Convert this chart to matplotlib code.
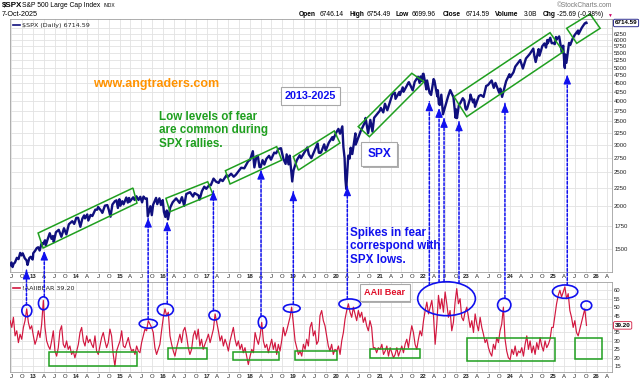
import matplotlib
matplotlib.use('Agg')
import matplotlib.pyplot as plt
import matplotlib.dates as mdates
import matplotlib.patheffects as pe
from matplotlib.patches import Polygon, Ellipse, Rectangle, ConnectionPatch
import pandas as pd

plt.rcParams['font.family'] = ['Liberation Sans', 'DejaVu Sans']

# S&P 500 closes, (month-day, close) per year
spx_2012 = [('06-15', 1343), ('07-03', 1375), ('07-12', 1334), ('07-20', 1362), ('08-01', 1375), ('08-17', 1418),
            ('08-31', 1406), ('09-14', 1465), ('09-25', 1441), ('10-05', 1461), ('10-23', 1413), ('11-07', 1394),
            ('11-15', 1353), ('11-30', 1416), ('12-12', 1428), ('12-28', 1402), ('12-31', 1426)]
spx_2013 = [('01-02', 1462), ('01-18', 1486), ('02-01', 1513), ('02-13', 1521), ('02-25', 1488), ('03-14', 1563),
            ('03-25', 1552), ('04-11', 1593), ('04-18', 1541), ('05-02', 1598), ('05-21', 1669), ('06-05', 1608),
            ('06-17', 1639), ('06-24', 1573), ('07-12', 1680), ('07-23', 1692), ('08-05', 1707), ('08-27', 1630),
            ('09-18', 1725), ('10-08', 1656), ('10-29', 1771), ('11-14', 1790), ('11-27', 1807), ('12-13', 1775),
            ('12-31', 1848)]
spx_2014 = [('01-15', 1848), ('02-03', 1742), ('02-20', 1839), ('03-07', 1878), ('03-14', 1841), ('04-02', 1890),
            ('04-11', 1815), ('04-30', 1884), ('05-15', 1870), ('06-09', 1951), ('06-24', 1950), ('07-03', 1985),
            ('07-31', 1931), ('08-07', 1910), ('08-29', 2003), ('09-18', 2011), ('10-01', 1946), ('10-15', 1862),
            ('10-31', 2018), ('11-21', 2063), ('12-05', 2075), ('12-16', 1973), ('12-29', 2090)]
spx_2015 = [('01-06', 2002), ('01-22', 2063), ('02-02', 2021), ('02-25', 2114), ('03-10', 2044), ('03-20', 2108),
            ('03-26', 2056), ('04-24', 2117), ('05-06', 2080), ('05-21', 2131), ('06-08', 2080), ('06-23', 2124),
            ('07-08', 2047), ('07-20', 2128), ('08-03', 2098), ('08-17', 2102), ('08-25', 1867), ('09-16', 1995),
            ('09-28', 1881), ('10-09', 2015), ('11-03', 2109), ('11-13', 2023), ('12-01', 2103), ('12-14', 2012),
            ('12-29', 2078)]
spx_2016 = [('01-08', 1922), ('01-20', 1859), ('02-01', 1940), ('02-11', 1829), ('03-01', 1978), ('03-22', 2049),
            ('04-20', 2102), ('05-19', 2040), ('06-08', 2119), ('06-27', 2001), ('07-14', 2163), ('08-15', 2190),
            ('09-09', 2128), ('09-22', 2177), ('10-25', 2143), ('11-04', 2085), ('11-23', 2204), ('12-13', 2271),
            ('12-30', 2239)]
spx_2017 = [('01-12', 2270), ('01-26', 2297), ('02-06', 2293), ('03-01', 2396), ('03-22', 2348), ('04-13', 2329),
            ('04-28', 2384), ('05-17', 2357), ('06-19', 2453), ('06-29', 2419), ('07-27', 2475), ('08-18', 2426),
            ('09-05', 2458), ('09-29', 2519), ('10-20', 2575), ('11-15', 2565), ('12-18', 2690)]
spx_2018 = [('01-03', 2713), ('01-26', 2873), ('02-08', 2581), ('02-26', 2780), ('03-09', 2786), ('03-23', 2588),
            ('04-02', 2582), ('04-18', 2708), ('05-03', 2630), ('05-21', 2733), ('06-12', 2787), ('06-28', 2716),
            ('07-25', 2846), ('08-10', 2833), ('08-29', 2914), ('09-20', 2931), ('10-11', 2728), ('10-29', 2641),
            ('11-07', 2813), ('11-23', 2633), ('12-03', 2790), ('12-24', 2351)]
spx_2019 = [('01-04', 2532), ('01-31', 2704), ('02-25', 2796), ('03-08', 2743), ('04-30', 2946), ('05-13', 2812),
            ('06-03', 2744), ('07-26', 3025), ('08-05', 2845), ('08-14', 2840), ('08-23', 2847), ('09-19', 3006),
            ('10-02', 2887), ('10-28', 3039), ('11-27', 3153), ('12-03', 3093), ('12-27', 3240)]
spx_2020 = [('01-17', 3330), ('01-31', 3226), ('02-19', 3386), ('02-28', 2954), ('03-09', 2747), ('03-16', 2386),
            ('03-23', 2237), ('04-09', 2790), ('04-21', 2737), ('04-29', 2940), ('05-13', 2820), ('06-08', 3232),
            ('06-11', 3002), ('07-22', 3277), ('08-31', 3500), ('09-02', 3580), ('09-23', 3237), ('10-12', 3534),
            ('10-30', 3270), ('11-13', 3585), ('12-31', 3756)]
spx_2021 = [('01-08', 3825), ('01-29', 3714), ('02-12', 3934), ('03-04', 3768), ('03-26', 3975), ('04-16', 4185),
            ('05-07', 4232), ('05-12', 4063), ('06-14', 4255), ('06-18', 4166), ('07-12', 4384), ('07-19', 4258),
            ('08-30', 4529), ('09-02', 4537), ('10-04', 4300), ('10-21', 4549), ('11-18', 4704), ('12-01', 4513),
            ('12-10', 4712), ('12-20', 4568), ('12-29', 4793)]
spx_2022 = [('01-03', 4797), ('01-27', 4327), ('02-02', 4590), ('02-23', 4226), ('03-08', 4170), ('03-29', 4632),
            ('04-05', 4582), ('04-29', 4132), ('05-04', 4300), ('05-12', 3930), ('05-20', 3901), ('06-02', 4177),
            ('06-16', 3667), ('07-08', 3899), ('07-29', 4130), ('08-16', 4305), ('09-12', 4110), ('09-30', 3586),
            ('10-04', 3791), ('10-12', 3577), ('10-28', 3901), ('11-10', 3956), ('11-30', 4080), ('12-13', 4019),
            ('12-22', 3822), ('12-28', 3783)]
spx_2023 = [('01-05', 3808), ('01-31', 4077), ('02-02', 4179), ('02-24', 3970), ('03-06', 4048), ('03-13', 3855),
            ('04-14', 4137), ('05-01', 4168), ('05-24', 4115), ('06-15', 4426), ('06-30', 4450), ('07-31', 4589),
            ('08-18', 4370), ('09-01', 4515), ('10-03', 4229), ('10-12', 4349), ('10-27', 4117), ('11-30', 4568),
            ('12-28', 4783)]
spx_2024 = [('01-04', 4688), ('01-31', 4846), ('02-15', 5030), ('03-28', 5254), ('04-19', 4967), ('05-15', 5308),
            ('06-17', 5473), ('07-16', 5667), ('07-25', 5399), ('08-05', 5186), ('08-30', 5648), ('09-06', 5408),
            ('09-30', 5762), ('10-18', 5864), ('10-31', 5705), ('11-11', 6001), ('11-15', 5870), ('12-06', 6090),
            ('12-18', 5872), ('12-31', 5882)]
spx_2025 = [('01-13', 5836), ('01-23', 6119), ('01-27', 6012), ('02-19', 6144), ('03-13', 5522), ('03-25', 5777),
            ('04-04', 5074), ('04-08', 4982), ('04-09', 5457), ('04-21', 5158), ('05-13', 5886), ('05-23', 5803),
            ('06-12', 6045), ('06-30', 6205), ('07-28', 6389), ('08-01', 6238), ('08-28', 6502), ('09-22', 6693),
            ('10-06', 6740), ('10-07', 6714.59)]

# AAII bearish %, read roughly every two weeks
bear_2012 = [42, 38, 44, 33, 36, 29, 34, 31, 38, 42, 49, 41, 37, 39]
bear_2013 = [33, 28, 31, 36, 32, 40, 54, 38, 30, 27, 25, 30, 36, 24, 21, 26, 36, 39, 28, 26, 30, 25, 27, 22, 24, 20]
bear_2014 = [24, 28, 35, 38, 30, 27, 33, 29, 31, 28, 26, 33, 24, 22, 27, 32, 35, 30, 26, 29, 37, 33, 22, 15, 24, 27]
bear_2015 = [30, 36, 27, 26, 29, 32, 27, 24, 25, 22, 27, 24, 23, 29, 33, 37, 36, 42, 40, 38, 35, 26, 22, 25, 28, 36]
bear_2016 = [44, 49, 45, 47, 33, 28, 24, 21, 26, 30, 34, 29, 36, 38, 33, 26, 22, 25, 33, 36, 31, 37, 27, 31, 25, 28]
bear_2017 = [31, 34, 29, 33, 37, 46, 41, 36, 30, 33, 27, 31, 28, 24, 30, 34, 38, 31, 27, 30, 25, 28, 23, 26, 21, 16]
bear_2018 = [21, 25, 23, 35, 31, 28, 33, 41, 30, 26, 28, 23, 27, 31, 25, 29, 22, 28, 24, 30, 38, 33, 36, 40, 44, 50]
bear_2019 = [40, 30, 26, 22, 24, 21, 28, 25, 31, 27, 38, 41, 33, 36, 28, 30, 45, 48, 42, 39, 33, 27, 24, 28, 22, 25]
bear_2020 = [24, 27, 22, 30, 35, 43, 48, 52, 47, 44, 50, 46, 42, 48, 44, 47, 41, 44, 39, 36, 42, 38, 26, 26, 23, 26]
bear_2021 = [25, 28, 22, 24, 27, 21, 26, 23, 20, 22, 26, 21, 24, 27, 23, 28, 31, 26, 33, 39, 35, 28, 25, 31, 36, 33]
bear_2022 = [42, 48, 53, 46, 50, 54, 45, 28, 40, 57, 49, 55, 47, 59, 52, 44, 48, 36, 41, 53, 61, 52, 55, 44, 42, 47]
bear_2023 = [50, 44, 38, 42, 35, 46, 40, 36, 44, 38, 34, 29, 31, 26, 23, 21, 28, 25, 32, 29, 36, 40, 50, 31, 24, 20]
bear_2024 = [19, 25, 22, 27, 21, 24, 23, 26, 21, 28, 33, 25, 30, 23, 27, 22, 29, 25, 32, 27, 24, 30, 26, 28, 31, 38]
bear_2025 = [38, 45, 52, 57, 60, 56, 59, 62, 55, 58, 48, 44, 38, 42, 35, 33, 37, 41, 45, 49, 39.2]

# tick values; the ones hidden under the last-value tags get no label
price_ticks = [1500, 1750, 2000, 2250, 2500, 2750, 3000, 3250, 3500, 3750, 4000, 4250, 4500, 4750,
               5000, 5250, 5500, 5750, 6000, 6250, 6500]
price_hidden = [6500]
bear_ticks = [15, 20, 25, 30, 35, 40, 45, 50, 55, 60]
bear_hidden = [40]

NAVY = '#10107e'
RED = '#d2173f'
BLUE = '#1010ee'
GREEN = '#1f9f1f'
GRID = '#e2e2e2'


def d(s):
    return mdates.date2num(pd.Timestamp(s))


spx_years = [(2012, spx_2012), (2013, spx_2013), (2014, spx_2014), (2015, spx_2015), (2016, spx_2016),
             (2017, spx_2017), (2018, spx_2018), (2019, spx_2019), (2020, spx_2020), (2021, spx_2021),
             (2022, spx_2022), (2023, spx_2023), (2024, spx_2024), (2025, spx_2025)]
spx_dates, spx_vals = [], []
for y, pts in spx_years:
    for md, v in pts:
        spx_dates.append(pd.Timestamp(f'{y}-{md}'))
        spx_vals.append(v)

bear_dates = list(pd.date_range(end='2012-12-20', periods=len(bear_2012), freq='14D'))
bear_vals = list(bear_2012)
for y, vals in [(2013, bear_2013), (2014, bear_2014), (2015, bear_2015), (2016, bear_2016), (2017, bear_2017),
                (2018, bear_2018), (2019, bear_2019), (2020, bear_2020), (2021, bear_2021), (2022, bear_2022),
                (2023, bear_2023), (2024, bear_2024)]:
    bear_dates += list(pd.date_range(f'{y}-01-03', periods=len(vals), freq='14D'))
    bear_vals += vals
bear_dates += list(pd.date_range(end='2025-10-07', periods=len(bear_2025), freq='14D'))
bear_vals += bear_2025

W, H = 640, 382
fig = plt.figure(figsize=(6.4, 3.82), dpi=100)
ax1 = fig.add_axes([9.5 / W, 1 - 272 / H, 602.5 / W, 253 / H])
ax2 = fig.add_axes([9.5 / W, 1 - 372 / H, 602.5 / W, 90 / H])

ax1.plot(spx_dates, spx_vals, color=NAVY, lw=1.7, zorder=3)
ax1.set_yscale('log')
ax1.set_ylim(1291, 6894)
ax2.plot(bear_dates, bear_vals, color=RED, lw=0.85, zorder=3)
ax2.set_ylim(11.6, 64.9)

qticks = pd.date_range('2012-07-01', '2026-04-01', freq='QS')
qlabels = [str(t.year % 100) if t.month == 1 else {4: 'A', 7: 'J', 10: 'O'}[t.month] for t in qticks]
for ax in (ax1, ax2):
    ax.set_xlim(d('2012-06-16'), d('2026-05-10'))
    ax.set_xticks(qticks)
    ax.set_xticklabels(qlabels)
    for lab, t in zip(ax.get_xticklabels(), qticks):
        if t.month == 1:
            lab.set_fontweight('bold')
    ax.yaxis.tick_right()
    ax.tick_params(length=0, labelsize=4.3, pad=1.5, colors='#222222')
    ax.grid(True, color=GRID, lw=0.6, zorder=0)
    for sp in ax.spines.values():
        sp.set_color('#a0a0a0')
        sp.set_linewidth(0.6)

ax1.yaxis.set_minor_locator(matplotlib.ticker.NullLocator())
ax1.set_yticks(price_ticks)
ax1.set_yticklabels(['' if v in price_hidden else str(v) for v in price_ticks])
ax2.set_yticks(bear_ticks)
ax2.set_yticklabels(['' if v in bear_hidden else str(v) for v in bear_ticks])

# last value tags
ax1.annotate(f'{spx_vals[-1]:.2f}', xy=(1, spx_vals[-1]), xycoords=('axes fraction', 'data'), xytext=(2, 0),
             textcoords='offset points', va='center', ha='left', fontsize=4.5, fontweight='bold',
             bbox=dict(boxstyle='round,pad=0.2', fc='white', ec=NAVY, lw=0.6), zorder=5)
ax2.annotate(f'{bear_vals[-1]:.2f}', xy=(1, bear_vals[-1]), xycoords=('axes fraction', 'data'), xytext=(2, 0),
             textcoords='offset points', va='center', ha='left', fontsize=4.5, fontweight='bold',
             bbox=dict(boxstyle='round,pad=0.2', fc='white', ec=RED, lw=0.6), zorder=5)

# rally channels on SPX
channels = [
    [('2013-02-12', 1671), ('2013-03-26', 1513), ('2015-05-26', 2038), ('2015-04-22', 2251)],
    [('2016-01-25', 2103), ('2016-02-28', 1924), ('2017-02-23', 2163), ('2017-01-11', 2347)],
    [('2017-06-09', 2525), ('2017-07-18', 2312), ('2018-09-26', 2708), ('2018-08-15', 2961)],
    [('2019-01-02', 2771), ('2019-02-14', 2534), ('2020-01-30', 3033), ('2019-12-13', 3285)],
    [('2020-07-02', 3380), ('2020-10-04', 3162), ('2022-01-08', 4551), ('2021-09-26', 4812)],
    [('2022-09-17', 4121), ('2023-01-02', 3610), ('2025-03-26', 5551), ('2024-12-04', 6297)],
    [('2025-04-23', 6483), ('2025-07-17', 5869), ('2026-01-30', 6483), ('2025-11-06', 7127)],
]
for ch in channels:
    ax1.add_patch(Polygon([(d(a), p) for a, p in ch], closed=True, fill=False, ec=GREEN, lw=1.1,
                          zorder=4, clip_on=False))

# low-fear boxes on AAII
for a, b, lo, hi in [('2013-05-18', '2015-05-28', 15.4, 23.3), ('2016-02-14', '2017-01-03', 19.3, 26.0),
                     ('2017-08-15', '2018-09-06', 18.7, 23.6), ('2019-01-17', '2020-01-08', 18.7, 24.1),
                     ('2020-10-10', '2021-12-05', 19.7, 25.2), ('2023-01-02', '2025-01-16', 18.1, 31.6),
                     ('2025-07-03', '2026-02-13', 19.5, 31.9)]:
    ax2.add_patch(Rectangle((d(a), lo), d(b) - d(a), hi - lo, fill=False, ec=GREEN, lw=1.1, zorder=4))

# fear spikes circled
for c, v, wd, ht in [('2012-11-09', 47.9, 84, 7.1), ('2013-03-29', 52.3, 84, 7.7), ('2015-08-29', 40.2, 152, 5.3),
                     ('2016-01-20', 48.5, 135, 7.1), ('2017-03-09', 45.2, 93, 5.6), ('2018-04-17', 41.1, 70, 7.3),
                     ('2018-12-20', 49.3, 141, 4.7), ('2020-04-22', 51.9, 183, 5.9), ('2022-07-16', 55.0, 486, 20.1),
                     ('2023-11-14', 51.3, 112, 7.9), ('2025-04-10', 59.2, 213, 7.9), ('2025-10-06', 51.0, 90, 5.3)]:
    ax2.add_patch(Ellipse((d(c), v), wd, ht, fill=False, ec=BLUE, lw=1.2, zorder=5, clip_on=False))

# arrows linking SPX lows to fear spikes
for a, p, v in [('2012-11-06', 1308, 51.3), ('2013-04-05', 1483, 56.2), ('2015-08-28', 1845, 42.8),
                ('2016-02-05', 1801, 52.1), ('2017-02-28', 2207, 47.9), ('2018-04-05', 2534, 44.8),
                ('2019-01-02', 2197, 51.7), ('2020-04-01', 2271, 54.8), ('2022-02-21', 3987, 63.1),
                ('2022-05-14', 3816, 64.7), ('2022-06-25', 3571, 65.0), ('2022-10-29', 3492, 64.1),
                ('2023-11-20', 3944, 55.3), ('2025-04-28', 4757, 63.1)]:
    con = ConnectionPatch(xyA=(d(a), v), coordsA=ax2.transData, xyB=(d(a), p), coordsB=ax1.transData,
                          color=BLUE, lw=1.1, linestyle=(0, (1.8, 1.2)), zorder=6)
    fig.add_artist(con)
    ax1.annotate('', xy=(d(a), p), xytext=(0, -5.4), textcoords='offset points',
                 arrowprops=dict(arrowstyle='-|>,head_length=0.6,head_width=0.25', mutation_scale=9,
                                 color=BLUE, lw=0.8, shrinkA=0, shrinkB=0), annotation_clip=False, zorder=6)

# notes
shadow = [pe.withSimplePatchShadow(offset=(1.2, -1.2), shadow_rgbFace='#b0b0b0', alpha=1)]
ax1.text(d('2014-05-20'), 4482, 'www.angtraders.com', color='#ff9200', fontsize=9, fontweight='bold',
         ha='left', va='center', zorder=6)
t1 = ax1.text(d('2019-05-23'), 4140, '2013-2025', color=BLUE, fontsize=7.8, fontweight='bold', ha='center',
              va='center', zorder=6, bbox=dict(boxstyle='square,pad=0.35', fc='white', ec='#a8a8a8', lw=0.8))
ax1.text(d('2015-11-27'), 3749, 'Low levels of fear\nare common during\nSPX rallies.', color=GREEN,
         fontsize=8.4, fontweight='bold', ha='left', va='top', linespacing=1.15, zorder=6)
t2 = ax1.text(d('2020-12-24'), 2817, 'SPX', color=BLUE, fontsize=8.6, fontweight='bold', ha='center',
              va='center', zorder=6, bbox=dict(boxstyle='square,pad=0.5', fc='white', ec='#a8a8a8', lw=0.8))
ax1.text(d('2020-04-24'), 1739, 'Spikes in fear\ncorrespond with\nSPX lows.', color=BLUE, fontsize=8.4,
         fontweight='bold', ha='left', va='top', linespacing=1.15, zorder=6)
t3 = ax2.text(d('2021-02-13'), 58.7, 'AAII Bear', color='#e0102a', fontsize=6.6, fontweight='bold', ha='center',
              va='center', zorder=6, bbox=dict(boxstyle='square,pad=0.45', fc='white', ec='#a8a8a8', lw=0.8))
for t in (t1, t2, t3):
    t.get_bbox_patch().set_path_effects(shadow)

# legends
ax1.plot([0.005, 0.017], [0.975, 0.975], transform=ax1.transAxes, color=NAVY, lw=1.2)
ax1.text(0.021, 0.975, f'$SPX (Daily) {spx_vals[-1]:.2f}', transform=ax1.transAxes, fontsize=4.6,
         family='DejaVu Sans', va='center', color='#222222')
ax2.plot([0.005, 0.017], [0.93, 0.93], transform=ax2.transAxes, color=RED, lw=1.2)
ax2.text(0.021, 0.93, f'!AAIIBEAR {bear_vals[-1]:.2f}', transform=ax2.transAxes, fontsize=4.6,
         family='DejaVu Sans', va='center', color='#222222')


# header
def ftext(x, y, s, **kw):
    fig.text(x / W, 1 - y / H, s, va='center', **kw)


ftext(1.5, 5.5, '$SPX', fontsize=5.8, fontweight='bold')
ftext(22, 5.5, 'S&P 500 Large Cap Index', fontsize=4.9)
ftext(104, 5.5, 'INDX', fontsize=3.5)
ftext(2, 15, '7-Oct-2025', fontsize=5.2)
ftext(612, 5.5, '\u00a9StockCharts.com', fontsize=4.8, color='#777777', ha='right')
for x, s, bold in [(299, 'Open', True), (320, '6746.14', False), (349, 'High', True), (367, '6754.49', False),
                   (396, 'Low', True), (412, '6699.96', False), (443, 'Close', True), (466, '6714.59', False),
                   (495, 'Volume', True), (524, '3.0B', False), (543, 'Chg', True), (557, '-25.69 (-0.38%)', False)]:
    ftext(x, 15, s, fontsize=4.8, fontweight='bold' if bold else 'normal')
ftext(607, 15, '\u25bc', fontsize=3.5, color='#cc0066')

fig.savefig('out.png', dpi=100)
